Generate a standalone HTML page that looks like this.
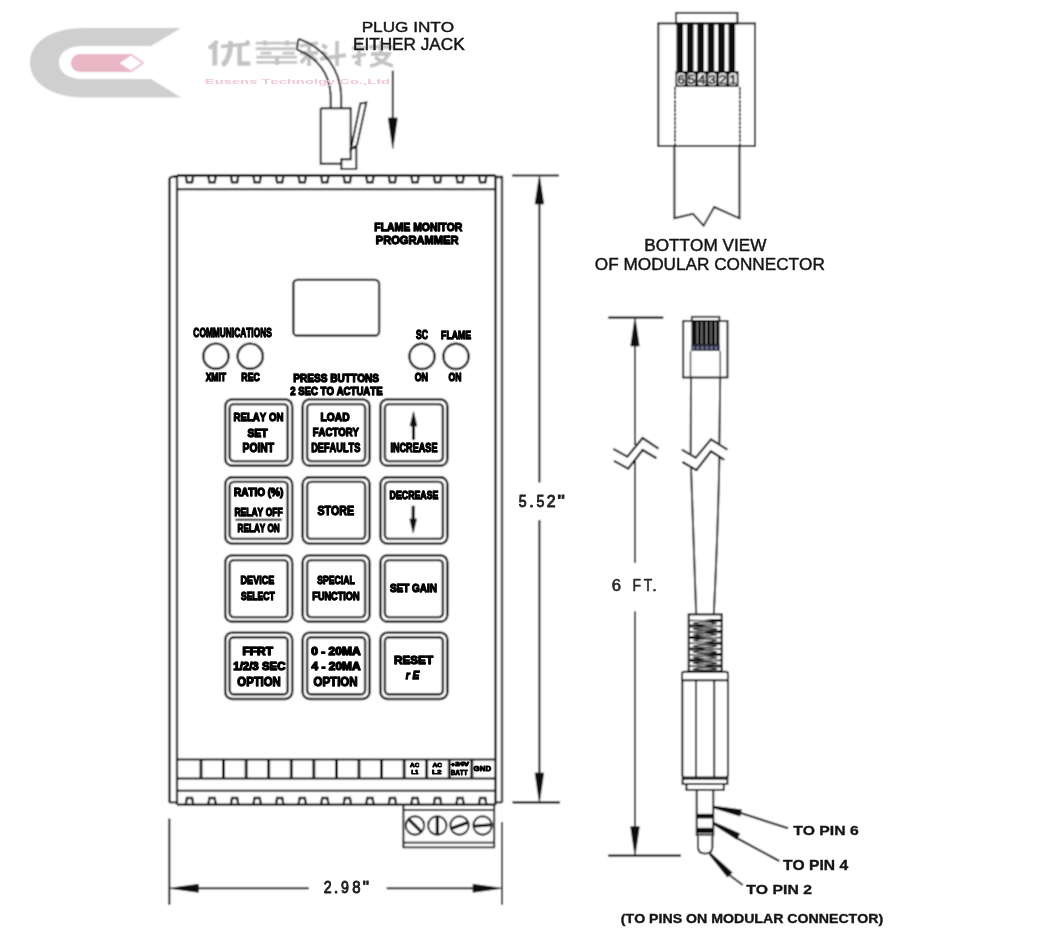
<!DOCTYPE html>
<html><head><meta charset="utf-8"><title>Flame Monitor Programmer</title>
<style>html,body{margin:0;padding:0;background:#fff;}svg{display:block;}</style></head>
<body><svg width="1053" height="940" viewBox="0 0 1053 940">
<defs><filter id="bl" filterUnits="userSpaceOnUse" x="0" y="0" width="1053" height="940"><feConvolveMatrix order="3" kernelMatrix="1 2 1 2 4 2 1 2 1" divisor="16" preserveAlpha="false" edgeMode="none"/></filter><filter id="id" filterUnits="userSpaceOnUse" x="0" y="0" width="1053" height="940"><feOffset dx="0" dy="0"/></filter></defs>
<rect width="1053" height="940" fill="#ffffff"/>
<g filter="url(#bl)">
<rect width="1053" height="940" fill="#ffffff"/>
<g opacity="1">
<path d="M84,28 L181,28 L151,46 L84,46 C66,46 59,54 59,62.5 C59,71 66,79 84,79 L151,79 L181,97.5 L84,97.5 C50,97.5 30,82 30,62.5 C30,43 50,28 84,28 Z" fill="#cfcfcf"/>
<path d="M80,54 L131,54 L118,63 L131,72 L80,72 C75,72 71,68 71,63 C71,58 75,54 80,54 Z" fill="#e9b6c6"/>
<path d="M118,63 L131,54.5 L143,63 L131,71.5 Z" fill="#fff" stroke="#e9b6c6" stroke-width="1.6"/>
</g>
<path d="M217.5,41 L209,48.5" stroke="#c4c4c4" stroke-width="4.2" fill="none" stroke-linecap="butt"/>
<path d="M214.8,44 L214.8,65.5" stroke="#c4c4c4" stroke-width="5.0" fill="none" stroke-linecap="butt"/>
<path d="M221,46.5 L249.5,44" stroke="#c4c4c4" stroke-width="3.6" fill="none" stroke-linecap="butt"/>
<path d="M230.5,41 C231,52 228.5,60 222.5,65.5" stroke="#c4c4c4" stroke-width="5.0" fill="none" stroke-linecap="butt"/>
<path d="M239.6,46 L239.6,63.5 L250.5,63.5" stroke="#c4c4c4" stroke-width="4.6" fill="none" stroke-linecap="butt"/>
<path d="M246,41 L249.5,43.5" stroke="#c4c4c4" stroke-width="3.5" fill="none" stroke-linecap="butt"/>
<path d="M255.8,43.1 L296.6,43.1 M255.8,48.8 L295.7,48.8 M260.5,53.1 L271.5,53.1 M282.4,53.1 L294.7,53.1 M256.3,57.1 L297.1,57.1 M256.3,62.4 L297.1,62.4" stroke="#c4c4c4" stroke-width="2.9" fill="none" stroke-linecap="butt"/>
<path d="M265,40.5 L265,45.5 M287,40.5 L287,45.5 M277,56 L277,65" stroke="#c4c4c4" stroke-width="4.0" fill="none" stroke-linecap="butt"/>
<path d="M300,46 L318,43 M309,43 L309,66 M300,53 L318,53 M308,54 L301,63 M310,55 L317,61 M322,45 L327,48 M322,52 L327,55 M320,59 L346,55 M337,41 L337,66" stroke="#c4c4c4" stroke-width="3.8" fill="none" stroke-linecap="butt"/>
<path d="M352,48 L366,48 M359,41 L359,64 L355,62 M352,57 L366,54 M369,47 L393,47 M381,41 L381,52 M371,54 L389,54 C386,60 380,64 370,66 M375,57 C380,61 386,64 393,66" stroke="#c4c4c4" stroke-width="3.8" fill="none" stroke-linecap="butt"/>
<line x1="392.80" y1="70.70" x2="392.80" y2="125.00" stroke="#080808" stroke-width="1.92"/>
<path d="M392.80,148.50 L397.30,118.00 L388.30,118.00 Z" fill="#080808" stroke="#080808" stroke-width="0.72"/>
<path d="M330.7,108.2 L330.7,95 C329.5,74 318,58 296.8,49.3" stroke="#080808" stroke-width="1.92" fill="none" />
<path d="M341.2,108.2 L341.2,95 C340,70 325,48 298.9,38.9" stroke="#080808" stroke-width="1.92" fill="none" />
<path d="M298.9,38.9 C297,42 298,46 296.8,49.3" stroke="#080808" stroke-width="1.92" fill="none" />
<path d="M320.7,108.2 L350.7,108.2 L350.7,152 M320.7,108.2 L320.7,163.8 L341.4,163.8" stroke="#080808" stroke-width="1.92" fill="none" />
<path d="M341.4,159.3 L350.7,159.3 L350.7,149 L356.3,147 L356.3,168.9 L341.4,168.9 Z" stroke="#080808" stroke-width="1.92" fill="none" />
<path d="M350.7,150 L360.3,103.5 L366.3,102.5 L357,145 L353,148" stroke="#080808" stroke-width="1.92" fill="none" />
<path d="M177.0,175.5 L495.5,175.5" stroke="#080808" stroke-width="2.28" fill="none" />
<path d="M169.5,802.4 L169.5,179 Q169.5,176.5 177.0,176.5" stroke="#080808" stroke-width="2.28" fill="none" />
<path d="M169.5,802.4 L177.0,802.4" stroke="#080808" stroke-width="1.92" fill="none" />
<path d="M502.0,802.4 L502.0,177 L495.5,177" stroke="#080808" stroke-width="2.28" fill="none" />
<path d="M502.0,802.4 L495.5,802.4" stroke="#080808" stroke-width="1.92" fill="none" />
<line x1="177.00" y1="175.50" x2="177.00" y2="804.60" stroke="#080808" stroke-width="2.28"/>
<line x1="495.50" y1="175.50" x2="495.50" y2="804.60" stroke="#080808" stroke-width="2.28"/>
<line x1="177.00" y1="189.20" x2="495.50" y2="189.20" stroke="#080808" stroke-width="2.28"/>
<line x1="177.00" y1="804.60" x2="495.50" y2="804.60" stroke="#080808" stroke-width="2.28"/>
<line x1="177.00" y1="790.80" x2="495.50" y2="790.80" stroke="#080808" stroke-width="2.04"/>
<line x1="177.00" y1="759.50" x2="495.50" y2="759.50" stroke="#080808" stroke-width="2.04"/>
<line x1="177.00" y1="778.50" x2="495.50" y2="778.50" stroke="#080808" stroke-width="2.04"/>
<path d="M185.70,175.5 L186.90,182.4 L192.10,182.4 L193.30,175.5" stroke="#080808" stroke-width="2.28" fill="none" />
<path d="M185.70,804.6 L186.90,798 L192.10,798 L193.30,804.6" stroke="#080808" stroke-width="2.28" fill="none" />
<path d="M208.25,175.5 L209.45,182.4 L214.65,182.4 L215.85,175.5" stroke="#080808" stroke-width="2.28" fill="none" />
<path d="M208.25,804.6 L209.45,798 L214.65,798 L215.85,804.6" stroke="#080808" stroke-width="2.28" fill="none" />
<path d="M230.80,175.5 L232.00,182.4 L237.20,182.4 L238.40,175.5" stroke="#080808" stroke-width="2.28" fill="none" />
<path d="M230.80,804.6 L232.00,798 L237.20,798 L238.40,804.6" stroke="#080808" stroke-width="2.28" fill="none" />
<path d="M253.35,175.5 L254.55,182.4 L259.75,182.4 L260.95,175.5" stroke="#080808" stroke-width="2.28" fill="none" />
<path d="M253.35,804.6 L254.55,798 L259.75,798 L260.95,804.6" stroke="#080808" stroke-width="2.28" fill="none" />
<path d="M275.90,175.5 L277.10,182.4 L282.30,182.4 L283.50,175.5" stroke="#080808" stroke-width="2.28" fill="none" />
<path d="M275.90,804.6 L277.10,798 L282.30,798 L283.50,804.6" stroke="#080808" stroke-width="2.28" fill="none" />
<path d="M298.45,175.5 L299.65,182.4 L304.85,182.4 L306.05,175.5" stroke="#080808" stroke-width="2.28" fill="none" />
<path d="M298.45,804.6 L299.65,798 L304.85,798 L306.05,804.6" stroke="#080808" stroke-width="2.28" fill="none" />
<path d="M321.00,175.5 L322.20,182.4 L327.40,182.4 L328.60,175.5" stroke="#080808" stroke-width="2.28" fill="none" />
<path d="M321.00,804.6 L322.20,798 L327.40,798 L328.60,804.6" stroke="#080808" stroke-width="2.28" fill="none" />
<path d="M343.55,175.5 L344.75,182.4 L349.95,182.4 L351.15,175.5" stroke="#080808" stroke-width="2.28" fill="none" />
<path d="M343.55,804.6 L344.75,798 L349.95,798 L351.15,804.6" stroke="#080808" stroke-width="2.28" fill="none" />
<path d="M366.10,175.5 L367.30,182.4 L372.50,182.4 L373.70,175.5" stroke="#080808" stroke-width="2.28" fill="none" />
<path d="M366.10,804.6 L367.30,798 L372.50,798 L373.70,804.6" stroke="#080808" stroke-width="2.28" fill="none" />
<path d="M388.65,175.5 L389.85,182.4 L395.05,182.4 L396.25,175.5" stroke="#080808" stroke-width="2.28" fill="none" />
<path d="M388.65,804.6 L389.85,798 L395.05,798 L396.25,804.6" stroke="#080808" stroke-width="2.28" fill="none" />
<path d="M411.20,175.5 L412.40,182.4 L417.60,182.4 L418.80,175.5" stroke="#080808" stroke-width="2.28" fill="none" />
<path d="M411.20,804.6 L412.40,798 L417.60,798 L418.80,804.6" stroke="#080808" stroke-width="2.28" fill="none" />
<path d="M433.75,175.5 L434.95,182.4 L440.15,182.4 L441.35,175.5" stroke="#080808" stroke-width="2.28" fill="none" />
<path d="M433.75,804.6 L434.95,798 L440.15,798 L441.35,804.6" stroke="#080808" stroke-width="2.28" fill="none" />
<path d="M456.30,175.5 L457.50,182.4 L462.70,182.4 L463.90,175.5" stroke="#080808" stroke-width="2.28" fill="none" />
<path d="M456.30,804.6 L457.50,798 L462.70,798 L463.90,804.6" stroke="#080808" stroke-width="2.28" fill="none" />
<path d="M478.85,175.5 L480.05,182.4 L485.25,182.4 L486.45,175.5" stroke="#080808" stroke-width="2.28" fill="none" />
<path d="M478.85,804.6 L480.05,798 L485.25,798 L486.45,804.6" stroke="#080808" stroke-width="2.28" fill="none" />
<line x1="201.00" y1="759.50" x2="201.00" y2="778.50" stroke="#080808" stroke-width="2.88"/>
<line x1="223.57" y1="759.50" x2="223.57" y2="778.50" stroke="#080808" stroke-width="2.88"/>
<line x1="246.14" y1="759.50" x2="246.14" y2="778.50" stroke="#080808" stroke-width="2.88"/>
<line x1="268.71" y1="759.50" x2="268.71" y2="778.50" stroke="#080808" stroke-width="2.88"/>
<line x1="291.28" y1="759.50" x2="291.28" y2="778.50" stroke="#080808" stroke-width="2.88"/>
<line x1="313.85" y1="759.50" x2="313.85" y2="778.50" stroke="#080808" stroke-width="2.88"/>
<line x1="336.42" y1="759.50" x2="336.42" y2="778.50" stroke="#080808" stroke-width="2.88"/>
<line x1="358.99" y1="759.50" x2="358.99" y2="778.50" stroke="#080808" stroke-width="2.88"/>
<line x1="381.56" y1="759.50" x2="381.56" y2="778.50" stroke="#080808" stroke-width="2.88"/>
<line x1="404.13" y1="759.50" x2="404.13" y2="778.50" stroke="#080808" stroke-width="2.88"/>
<line x1="426.70" y1="759.50" x2="426.70" y2="778.50" stroke="#080808" stroke-width="2.88"/>
<line x1="449.27" y1="759.50" x2="449.27" y2="778.50" stroke="#080808" stroke-width="2.88"/>
<line x1="471.84" y1="759.50" x2="471.84" y2="778.50" stroke="#080808" stroke-width="2.88"/>
<path d="M403.4,805 L403.4,847.4 L494.2,847.4 L494.2,805" stroke="#080808" stroke-width="1.92" fill="none" />
<line x1="403.40" y1="810.00" x2="494.20" y2="810.00" stroke="#080808" stroke-width="1.92"/>
<line x1="403.40" y1="842.60" x2="494.20" y2="842.60" stroke="#080808" stroke-width="1.92"/>
<circle cx="415" cy="825.5" r="9.2" fill="none" stroke="#080808" stroke-width="1.92"/>
<line x1="408.78" y1="819.28" x2="421.22" y2="831.72" stroke="#080808" stroke-width="3.12"/>
<circle cx="437.3" cy="825.5" r="9.2" fill="none" stroke="#080808" stroke-width="1.92"/>
<line x1="437.30" y1="816.70" x2="437.30" y2="834.30" stroke="#080808" stroke-width="3.12"/>
<circle cx="459.5" cy="825.5" r="9.2" fill="none" stroke="#080808" stroke-width="1.92"/>
<line x1="467.77" y1="822.49" x2="451.23" y2="828.51" stroke="#080808" stroke-width="3.12"/>
<circle cx="482.6" cy="825.5" r="9.2" fill="none" stroke="#080808" stroke-width="1.92"/>
<line x1="491.37" y1="824.73" x2="473.83" y2="826.27" stroke="#080808" stroke-width="3.12"/>
<rect x="293.3" y="279.9" width="85.8" height="55.8" rx="4" fill="none" stroke="#080808" stroke-width="2.28"/>
<circle cx="215.9" cy="356.2" r="12.6" fill="none" stroke="#080808" stroke-width="2.40"/>
<circle cx="250.25" cy="356.2" r="12.6" fill="none" stroke="#080808" stroke-width="2.40"/>
<circle cx="422" cy="356.4" r="12.6" fill="none" stroke="#080808" stroke-width="2.40"/>
<circle cx="456" cy="356.4" r="12.6" fill="none" stroke="#080808" stroke-width="2.40"/>
<rect x="225.20" y="399.40" width="67.0" height="66.4" rx="7" fill="none" stroke="#080808" stroke-width="2.40"/>
<rect x="229.70" y="404.10" width="58.0" height="57.0" rx="4" fill="none" stroke="#080808" stroke-width="2.40"/>
<rect x="302.60" y="399.40" width="67.0" height="66.4" rx="7" fill="none" stroke="#080808" stroke-width="2.40"/>
<rect x="307.10" y="404.10" width="58.0" height="57.0" rx="4" fill="none" stroke="#080808" stroke-width="2.40"/>
<rect x="380.40" y="399.40" width="67.0" height="66.4" rx="7" fill="none" stroke="#080808" stroke-width="2.40"/>
<rect x="384.90" y="404.10" width="58.0" height="57.0" rx="4" fill="none" stroke="#080808" stroke-width="2.40"/>
<rect x="225.20" y="477.20" width="67.0" height="66.4" rx="7" fill="none" stroke="#080808" stroke-width="2.40"/>
<rect x="229.70" y="481.90" width="58.0" height="57.0" rx="4" fill="none" stroke="#080808" stroke-width="2.40"/>
<rect x="302.60" y="477.20" width="67.0" height="66.4" rx="7" fill="none" stroke="#080808" stroke-width="2.40"/>
<rect x="307.10" y="481.90" width="58.0" height="57.0" rx="4" fill="none" stroke="#080808" stroke-width="2.40"/>
<rect x="380.40" y="477.20" width="67.0" height="66.4" rx="7" fill="none" stroke="#080808" stroke-width="2.40"/>
<rect x="384.90" y="481.90" width="58.0" height="57.0" rx="4" fill="none" stroke="#080808" stroke-width="2.40"/>
<rect x="225.20" y="555.40" width="67.0" height="66.4" rx="7" fill="none" stroke="#080808" stroke-width="2.40"/>
<rect x="229.70" y="560.10" width="58.0" height="57.0" rx="4" fill="none" stroke="#080808" stroke-width="2.40"/>
<rect x="302.60" y="555.40" width="67.0" height="66.4" rx="7" fill="none" stroke="#080808" stroke-width="2.40"/>
<rect x="307.10" y="560.10" width="58.0" height="57.0" rx="4" fill="none" stroke="#080808" stroke-width="2.40"/>
<rect x="380.40" y="555.40" width="67.0" height="66.4" rx="7" fill="none" stroke="#080808" stroke-width="2.40"/>
<rect x="384.90" y="560.10" width="58.0" height="57.0" rx="4" fill="none" stroke="#080808" stroke-width="2.40"/>
<rect x="225.20" y="632.60" width="67.0" height="66.4" rx="7" fill="none" stroke="#080808" stroke-width="2.40"/>
<rect x="229.70" y="637.30" width="58.0" height="57.0" rx="4" fill="none" stroke="#080808" stroke-width="2.40"/>
<rect x="302.60" y="632.60" width="67.0" height="66.4" rx="7" fill="none" stroke="#080808" stroke-width="2.40"/>
<rect x="307.10" y="637.30" width="58.0" height="57.0" rx="4" fill="none" stroke="#080808" stroke-width="2.40"/>
<rect x="380.40" y="632.60" width="67.0" height="66.4" rx="7" fill="none" stroke="#080808" stroke-width="2.40"/>
<rect x="384.90" y="637.30" width="58.0" height="57.0" rx="4" fill="none" stroke="#080808" stroke-width="2.40"/>
<line x1="235.50" y1="519.80" x2="281.80" y2="519.80" stroke="#080808" stroke-width="1.92"/>
<line x1="413.50" y1="440.00" x2="413.50" y2="422.00" stroke="#080808" stroke-width="3.12"/>
<path d="M413.50,411.70 L410.10,426.00 L416.90,426.00 Z" fill="#080808" stroke="#080808" stroke-width="0.72"/>
<line x1="413.20" y1="505.80" x2="413.20" y2="523.00" stroke="#080808" stroke-width="3.12"/>
<path d="M413.20,532.80 L416.60,519.00 L409.80,519.00 Z" fill="#080808" stroke="#080808" stroke-width="0.72"/>
<line x1="512.00" y1="175.50" x2="559.00" y2="175.50" stroke="#080808" stroke-width="2.16"/>
<line x1="512.50" y1="802.40" x2="560.00" y2="802.40" stroke="#080808" stroke-width="2.16"/>
<line x1="539.40" y1="190.00" x2="539.40" y2="482.40" stroke="#080808" stroke-width="2.04"/>
<line x1="539.40" y1="520.00" x2="539.40" y2="790.00" stroke="#080808" stroke-width="2.04"/>
<path d="M539.40,175.50 L535.10,204.00 L543.70,204.00 Z" fill="#080808" stroke="#080808" stroke-width="0.72"/>
<path d="M539.40,802.40 L543.70,773.00 L535.10,773.00 Z" fill="#080808" stroke="#080808" stroke-width="0.72"/>
<line x1="169.30" y1="818.60" x2="169.30" y2="904.70" stroke="#080808" stroke-width="2.04"/>
<line x1="502.00" y1="822.00" x2="502.00" y2="904.70" stroke="#080808" stroke-width="2.04"/>
<line x1="180.00" y1="888.30" x2="308.70" y2="888.30" stroke="#080808" stroke-width="2.04"/>
<line x1="386.70" y1="888.30" x2="490.00" y2="888.30" stroke="#080808" stroke-width="2.04"/>
<path d="M169.30,888.30 L198.30,892.30 L198.30,884.30 Z" fill="#080808" stroke="#080808" stroke-width="0.72"/>
<path d="M502.00,888.30 L473.00,884.30 L473.00,892.30 Z" fill="#080808" stroke="#080808" stroke-width="0.72"/>
<rect x="658.3" y="23.4" width="96.7" height="122.6" fill="none" stroke="#080808" stroke-width="1.92"/>
<rect x="676" y="12.9" width="61.4" height="10.5" fill="none" stroke="#080808" stroke-width="1.92"/>
<rect x="676.50" y="23.4" width="6.6" height="48" fill="#0a0a0a"/>
<rect x="686.90" y="23.4" width="6.6" height="48" fill="#0a0a0a"/>
<rect x="697.30" y="23.4" width="6.6" height="48" fill="#0a0a0a"/>
<rect x="707.70" y="23.4" width="6.6" height="48" fill="#0a0a0a"/>
<rect x="718.10" y="23.4" width="6.6" height="48" fill="#0a0a0a"/>
<rect x="728.50" y="23.4" width="6.6" height="48" fill="#0a0a0a"/>
<rect x="675.5" y="71" width="63" height="16" fill="#0a0a0a"/>
<rect x="677.10" y="73" width="7.8" height="12.5" rx="2.5" fill="#e6e6e6"/>
<text x="681.00" y="84" text-anchor="middle" style="font-family:'Liberation Sans',sans-serif;font-size:13px" fill="#222" stroke="#222" stroke-width="0.60">6</text>
<rect x="687.50" y="73" width="7.8" height="12.5" rx="2.5" fill="#e6e6e6"/>
<text x="691.40" y="84" text-anchor="middle" style="font-family:'Liberation Sans',sans-serif;font-size:13px" fill="#222" stroke="#222" stroke-width="0.60">5</text>
<rect x="697.90" y="73" width="7.8" height="12.5" rx="2.5" fill="#e6e6e6"/>
<text x="701.80" y="84" text-anchor="middle" style="font-family:'Liberation Sans',sans-serif;font-size:13px" fill="#222" stroke="#222" stroke-width="0.60">4</text>
<rect x="708.30" y="73" width="7.8" height="12.5" rx="2.5" fill="#e6e6e6"/>
<text x="712.20" y="84" text-anchor="middle" style="font-family:'Liberation Sans',sans-serif;font-size:13px" fill="#222" stroke="#222" stroke-width="0.60">3</text>
<rect x="718.70" y="73" width="7.8" height="12.5" rx="2.5" fill="#e6e6e6"/>
<text x="722.60" y="84" text-anchor="middle" style="font-family:'Liberation Sans',sans-serif;font-size:13px" fill="#222" stroke="#222" stroke-width="0.60">2</text>
<rect x="729.10" y="73" width="7.8" height="12.5" rx="2.5" fill="#e6e6e6"/>
<text x="733.00" y="84" text-anchor="middle" style="font-family:'Liberation Sans',sans-serif;font-size:13px" fill="#222" stroke="#222" stroke-width="0.60">1</text>
<path d="M675,87 L675,146 M739.8,87 L739.8,146" stroke="#080808" stroke-width="1.68" fill="none" stroke-dasharray="3.5,0.8"/>
<path d="M674.4,146 L674.4,218.3 L693,213.8 L703.6,225.7 L714.3,207 L739.5,218.3 L739.5,146" stroke="#080808" stroke-width="1.92" fill="none" />
<line x1="608.20" y1="317.60" x2="663.30" y2="317.60" stroke="#080808" stroke-width="2.16"/>
<line x1="635.00" y1="330.00" x2="635.00" y2="445.00" stroke="#080808" stroke-width="2.04"/>
<path d="M635.00,317.60 L630.80,346.00 L639.20,346.00 Z" fill="#080808" stroke="#080808" stroke-width="0.72"/>
<rect x="683.2" y="321" width="44.3" height="56.5" fill="none" stroke="#080808" stroke-width="1.92"/>
<rect x="691.8" y="316.8" width="27.6" height="4.2" fill="none" stroke="#080808" stroke-width="1.80"/>
<rect x="691.5" y="321" width="28" height="24.5" fill="#0c0c0c"/>
<line x1="697.20" y1="322" x2="697.20" y2="344" stroke="#9a9a9a" stroke-width="1.08"/>
<line x1="701.80" y1="322" x2="701.80" y2="344" stroke="#9a9a9a" stroke-width="1.08"/>
<line x1="706.40" y1="322" x2="706.40" y2="344" stroke="#9a9a9a" stroke-width="1.08"/>
<line x1="711.00" y1="322" x2="711.00" y2="344" stroke="#9a9a9a" stroke-width="1.08"/>
<line x1="715.60" y1="322" x2="715.60" y2="344" stroke="#9a9a9a" stroke-width="1.08"/>
<rect x="691" y="345" width="29" height="6" fill="#33334a"/>
<rect x="692.30" y="346.5" width="1.6" height="3" fill="#8a8aa8"/>
<rect x="696.90" y="346.5" width="1.6" height="3" fill="#8a8aa8"/>
<rect x="701.50" y="346.5" width="1.6" height="3" fill="#8a8aa8"/>
<rect x="706.10" y="346.5" width="1.6" height="3" fill="#8a8aa8"/>
<rect x="710.70" y="346.5" width="1.6" height="3" fill="#8a8aa8"/>
<rect x="715.30" y="346.5" width="1.6" height="3" fill="#8a8aa8"/>
<path d="M690.5,351 L690.5,377.5 M720.3,351 L720.3,377.5" stroke="#555" stroke-width="1.56" fill="none" />
<path d="M691,377.5 L690.7,453.6" stroke="#080808" stroke-width="1.92" fill="none" />
<path d="M720.2,377.5 L719.4,443.6" stroke="#080808" stroke-width="1.92" fill="none" />
<path d="M691,467.5 L696.2,614.4" stroke="#080808" stroke-width="1.92" fill="none" />
<path d="M719.4,457 C718,530 715,590 713.8,614.4" stroke="#080808" stroke-width="1.92" fill="none" />
<path d="M613.3,448.9 L627.3,456.6 L642.6,438 L658.5,448.7" stroke="#080808" stroke-width="2.16" fill="none" />
<path d="M614,460.9 L628.2,468.6 L642.6,450 L656.5,458.2" stroke="#080808" stroke-width="2.16" fill="none" />
<line x1="635.00" y1="461.00" x2="635.00" y2="563.00" stroke="#080808" stroke-width="2.04"/>
<path d="M681.8,449.6 L695.7,457.6 L711,439.4 L727.4,449.6" stroke="#080808" stroke-width="2.16" fill="none" />
<path d="M682.4,462 L696.4,470.2 L711,451.3 L724.3,459.8" stroke="#080808" stroke-width="2.16" fill="none" />
<line x1="635.00" y1="611.40" x2="635.00" y2="835.00" stroke="#080808" stroke-width="2.04"/>
<path d="M635.00,855.70 L639.30,826.70 L630.70,826.70 Z" fill="#080808" stroke="#080808" stroke-width="0.72"/>
<line x1="608.10" y1="855.70" x2="681.00" y2="855.70" stroke="#080808" stroke-width="2.16"/>
<rect x="688.7" y="614.4" width="33" height="57" fill="none" stroke="#080808" stroke-width="2.04"/>
<path d="M689.5,619.7 L704,620.1 L712,618.9 L721,618.9 L721,621.9 L712,621.9 L704,621.1 L689.5,621.3 Z" fill="#111"/>
<path d="M693,623.3 Q705,620.9 717,623.3 Q705,625.7 693,623.3" stroke="#1a1a1a" stroke-width="1.32" fill="none" />
<path d="M689.5,624.6 L698,624.6 L706,625.8 L721,625.4 L721,627.0 L706,626.8 L698,627.6 L689.5,627.6 Z" fill="#111"/>
<path d="M693,629.0 Q705,626.6 717,629.0 Q705,631.4 693,629.0" stroke="#1a1a1a" stroke-width="1.32" fill="none" />
<path d="M689.5,631.1 L704,631.5 L712,630.3 L721,630.3 L721,633.3 L712,633.3 L704,632.5 L689.5,632.7 Z" fill="#111"/>
<path d="M693,634.7 Q705,632.3 717,634.7 Q705,637.1 693,634.7" stroke="#1a1a1a" stroke-width="1.32" fill="none" />
<path d="M689.5,636.0 L698,636.0 L706,637.2 L721,636.8 L721,638.4 L706,638.2 L698,639.0 L689.5,639.0 Z" fill="#111"/>
<path d="M693,640.4 Q705,638.0 717,640.4 Q705,642.8 693,640.4" stroke="#1a1a1a" stroke-width="1.32" fill="none" />
<path d="M689.5,642.5 L704,642.9 L712,641.7 L721,641.7 L721,644.7 L712,644.7 L704,643.9 L689.5,644.1 Z" fill="#111"/>
<path d="M693,646.1 Q705,643.7 717,646.1 Q705,648.5 693,646.1" stroke="#1a1a1a" stroke-width="1.32" fill="none" />
<path d="M689.5,647.4 L698,647.4 L706,648.6 L721,648.2 L721,649.8 L706,649.6 L698,650.4 L689.5,650.4 Z" fill="#111"/>
<path d="M693,651.8 Q705,649.4 717,651.8 Q705,654.2 693,651.8" stroke="#1a1a1a" stroke-width="1.32" fill="none" />
<path d="M689.5,653.9 L704,654.3 L712,653.1 L721,653.1 L721,656.1 L712,656.1 L704,655.3 L689.5,655.5 Z" fill="#111"/>
<path d="M693,657.5 Q705,655.1 717,657.5 Q705,659.9 693,657.5" stroke="#1a1a1a" stroke-width="1.32" fill="none" />
<path d="M689.5,658.8 L698,658.8 L706,660.0 L721,659.6 L721,661.2 L706,661.0 L698,661.8 L689.5,661.8 Z" fill="#111"/>
<path d="M693,663.2 Q705,660.8 717,663.2 Q705,665.6 693,663.2" stroke="#1a1a1a" stroke-width="1.32" fill="none" />
<path d="M689.5,665.3 L704,665.7 L712,664.5 L721,664.5 L721,667.5 L712,667.5 L704,666.7 L689.5,666.9 Z" fill="#111"/>
<path d="M693,668.9 Q705,666.5 717,668.9 Q705,671.3 693,668.9" stroke="#1a1a1a" stroke-width="1.32" fill="none" />
<path d="M682,680.3 L682,674 Q682,671.8 684.5,671.8 L725.5,671.8 Q728,671.8 728,674 L728,680.3 Z" stroke="#080808" stroke-width="2.04" fill="none" />
<path d="M682.3,680.3 L682.3,775 Q682.3,777.6 685,777.6 L725.5,777.6 Q728,777.6 728,775 L728,680.3" stroke="#080808" stroke-width="2.04" fill="none" />
<line x1="696.00" y1="680.30" x2="696.00" y2="777.60" stroke="#080808" stroke-width="1.92"/>
<line x1="714.20" y1="680.30" x2="714.20" y2="777.60" stroke="#080808" stroke-width="1.92"/>
<rect x="682.6" y="778.7" width="44.8" height="5.3" fill="none" stroke="#080808" stroke-width="1.92"/>
<rect x="686.4" y="784" width="37.4" height="5.9" fill="none" stroke="#080808" stroke-width="1.92"/>
<path d="M696.7,790 L696.7,836 M713.3,790 L713.3,836" stroke="#080808" stroke-width="1.92" fill="none" />
<rect x="696.7" y="813.8" width="16.6" height="4.7" fill="#111"/>
<rect x="696.7" y="827.8" width="16.6" height="5.2" fill="#111"/>
<line x1="696.70" y1="834.60" x2="713.30" y2="834.60" stroke="#080808" stroke-width="1.92"/>
<path d="M698,836 L698,847 Q698,853.6 705.2,853.6 Q712.4,853.6 712.4,847 L712.4,836" stroke="#080808" stroke-width="1.92" fill="none" />
<line x1="740.00" y1="812.80" x2="788.10" y2="828.30" stroke="#080808" stroke-width="2.04"/>
<path d="M713.30,808.37 L740.23,816.52 L741.77,809.48 L713.90,805.63 Z" fill="#080808"/>
<line x1="735.00" y1="837.00" x2="779.20" y2="861.00" stroke="#080808" stroke-width="2.04"/>
<path d="M712.93,824.43 L736.78,839.86 L740.22,833.54 L714.27,821.97 Z" fill="#080808"/>
<line x1="728.00" y1="874.00" x2="742.70" y2="885.00" stroke="#080808" stroke-width="2.04"/>
<path d="M708.78,854.56 L727.38,877.47 L732.62,872.53 L710.82,852.64 Z" fill="#080808"/>
</g>
<g filter="url(#id)">
<text x="204.86" y="83.62" textLength="185.26" lengthAdjust="spacingAndGlyphs" style="font-family:'Liberation Sans',sans-serif;font-size:7.688px;font-kerning:none;font-weight:bold;" fill="#f2c8d5">Eusens Technolgy Co.,Ltd</text>
<text x="361.67" y="32.42" textLength="92.58" lengthAdjust="spacingAndGlyphs" style="font-family:'Liberation Sans',sans-serif;font-size:15.189px;font-kerning:none;" fill="#151515" stroke="#151515" stroke-width="0.45" stroke-linejoin="round">PLUG INTO</text>
<text x="352.97" y="49.72" textLength="111.65" lengthAdjust="spacingAndGlyphs" style="font-family:'Liberation Sans',sans-serif;font-size:15.916px;font-kerning:none;" fill="#151515" stroke="#151515" stroke-width="0.45" stroke-linejoin="round">EITHER JACK</text>
<text x="410.14" y="767.00" textLength="9.23" lengthAdjust="spacingAndGlyphs" style="font-family:'Liberation Sans',sans-serif;font-size:5.959px;font-kerning:none;font-weight:bold;" fill="#000" stroke="#000" stroke-width="0.9" stroke-linejoin="round">AC</text>
<text x="411.29" y="774.20" textLength="7.07" lengthAdjust="spacingAndGlyphs" style="font-family:'Liberation Sans',sans-serif;font-size:6.105px;font-kerning:none;font-weight:bold;" fill="#000" stroke="#000" stroke-width="0.9" stroke-linejoin="round">L1</text>
<text x="432.43" y="767.00" textLength="9.65" lengthAdjust="spacingAndGlyphs" style="font-family:'Liberation Sans',sans-serif;font-size:5.959px;font-kerning:none;font-weight:bold;" fill="#000" stroke="#000" stroke-width="0.9" stroke-linejoin="round">AC</text>
<text x="432.06" y="774.20" textLength="9.47" lengthAdjust="spacingAndGlyphs" style="font-family:'Liberation Sans',sans-serif;font-size:6.105px;font-kerning:none;font-weight:bold;" fill="#000" stroke="#000" stroke-width="0.9" stroke-linejoin="round">L2</text>
<text x="450.78" y="765.60" textLength="18.28" lengthAdjust="spacingAndGlyphs" style="font-family:'Liberation Sans',sans-serif;font-size:4.583px;font-kerning:none;font-weight:bold;" fill="#000" stroke="#000" stroke-width="0.9" stroke-linejoin="round">+24V</text>
<text x="450.67" y="774.60" textLength="16.99" lengthAdjust="spacingAndGlyphs" style="font-family:'Liberation Sans',sans-serif;font-size:6.686px;font-kerning:none;font-weight:bold;" fill="#000" stroke="#000" stroke-width="0.9" stroke-linejoin="round">BATT</text>
<text x="473.63" y="771.25" textLength="17.45" lengthAdjust="spacingAndGlyphs" style="font-family:'Liberation Sans',sans-serif;font-size:7.849px;font-kerning:none;font-weight:bold;" fill="#000" stroke="#000" stroke-width="1.0" stroke-linejoin="round">GND</text>
<text x="374.30" y="230.50" textLength="88.11" lengthAdjust="spacingAndGlyphs" style="font-family:'Liberation Sans',sans-serif;font-size:11.628px;font-kerning:none;font-weight:bold;" fill="#000" stroke="#000" stroke-width="1.3" stroke-linejoin="round">FLAME MONITOR</text>
<text x="375.76" y="244.40" textLength="82.67" lengthAdjust="spacingAndGlyphs" style="font-family:'Liberation Sans',sans-serif;font-size:11.628px;font-kerning:none;font-weight:bold;" fill="#000" stroke="#000" stroke-width="1.3" stroke-linejoin="round">PROGRAMMER</text>
<text x="193.36" y="337.00" textLength="78.37" lengthAdjust="spacingAndGlyphs" style="font-family:'Liberation Sans',sans-serif;font-size:12.500px;font-kerning:none;font-weight:bold;" fill="#000" stroke="#000" stroke-width="1.3" stroke-linejoin="round">COMMUNICATIONS</text>
<text x="205.67" y="380.80" textLength="20.42" lengthAdjust="spacingAndGlyphs" style="font-family:'Liberation Sans',sans-serif;font-size:10.756px;font-kerning:none;font-weight:bold;" fill="#000" stroke="#000" stroke-width="1.3" stroke-linejoin="round">XMIT</text>
<text x="241.31" y="380.80" textLength="18.53" lengthAdjust="spacingAndGlyphs" style="font-family:'Liberation Sans',sans-serif;font-size:10.756px;font-kerning:none;font-weight:bold;" fill="#000" stroke="#000" stroke-width="1.3" stroke-linejoin="round">REC</text>
<text x="415.95" y="338.50" textLength="11.98" lengthAdjust="spacingAndGlyphs" style="font-family:'Liberation Sans',sans-serif;font-size:12.064px;font-kerning:none;font-weight:bold;" fill="#000" stroke="#000" stroke-width="1.3" stroke-linejoin="round">SC</text>
<text x="441.12" y="338.90" textLength="30.02" lengthAdjust="spacingAndGlyphs" style="font-family:'Liberation Sans',sans-serif;font-size:11.483px;font-kerning:none;font-weight:bold;" fill="#000" stroke="#000" stroke-width="1.3" stroke-linejoin="round">FLAME</text>
<text x="414.63" y="381.40" textLength="13.47" lengthAdjust="spacingAndGlyphs" style="font-family:'Liberation Sans',sans-serif;font-size:11.483px;font-kerning:none;font-weight:bold;" fill="#000" stroke="#000" stroke-width="1.3" stroke-linejoin="round">ON</text>
<text x="448.55" y="381.40" textLength="12.93" lengthAdjust="spacingAndGlyphs" style="font-family:'Liberation Sans',sans-serif;font-size:11.483px;font-kerning:none;font-weight:bold;" fill="#000" stroke="#000" stroke-width="1.3" stroke-linejoin="round">ON</text>
<text x="293.33" y="382.10" textLength="85.67" lengthAdjust="spacingAndGlyphs" style="font-family:'Liberation Sans',sans-serif;font-size:11.047px;font-kerning:none;font-weight:bold;" fill="#000" stroke="#000" stroke-width="1.3" stroke-linejoin="round">PRESS BUTTONS</text>
<text x="290.17" y="394.70" textLength="92.41" lengthAdjust="spacingAndGlyphs" style="font-family:'Liberation Sans',sans-serif;font-size:11.047px;font-kerning:none;font-weight:bold;" fill="#000" stroke="#000" stroke-width="1.3" stroke-linejoin="round">2 SEC TO ACTUATE</text>
<text x="233.55" y="421.10" textLength="49.90" lengthAdjust="spacingAndGlyphs" style="font-family:'Liberation Sans',sans-serif;font-size:11.628px;font-kerning:none;font-weight:bold;" fill="#000" stroke="#000" stroke-width="1.3" stroke-linejoin="round">RELAY ON</text>
<text x="247.40" y="436.70" textLength="20.31" lengthAdjust="spacingAndGlyphs" style="font-family:'Liberation Sans',sans-serif;font-size:11.047px;font-kerning:none;font-weight:bold;" fill="#000" stroke="#000" stroke-width="1.3" stroke-linejoin="round">SET</text>
<text x="242.61" y="452.20" textLength="31.50" lengthAdjust="spacingAndGlyphs" style="font-family:'Liberation Sans',sans-serif;font-size:12.210px;font-kerning:none;font-weight:bold;" fill="#000" stroke="#000" stroke-width="1.3" stroke-linejoin="round">POINT</text>
<text x="320.61" y="420.70" textLength="29.02" lengthAdjust="spacingAndGlyphs" style="font-family:'Liberation Sans',sans-serif;font-size:11.047px;font-kerning:none;font-weight:bold;" fill="#000" stroke="#000" stroke-width="1.3" stroke-linejoin="round">LOAD</text>
<text x="312.76" y="436.30" textLength="46.19" lengthAdjust="spacingAndGlyphs" style="font-family:'Liberation Sans',sans-serif;font-size:11.047px;font-kerning:none;font-weight:bold;" fill="#000" stroke="#000" stroke-width="1.3" stroke-linejoin="round">FACTORY</text>
<text x="311.18" y="452.20" textLength="49.18" lengthAdjust="spacingAndGlyphs" style="font-family:'Liberation Sans',sans-serif;font-size:12.210px;font-kerning:none;font-weight:bold;" fill="#000" stroke="#000" stroke-width="1.3" stroke-linejoin="round">DEFAULTS</text>
<text x="390.39" y="452.20" textLength="47.17" lengthAdjust="spacingAndGlyphs" style="font-family:'Liberation Sans',sans-serif;font-size:12.210px;font-kerning:none;font-weight:bold;" fill="#000" stroke="#000" stroke-width="1.3" stroke-linejoin="round">INCREASE</text>
<text x="233.93" y="495.60" textLength="49.37" lengthAdjust="spacingAndGlyphs" style="font-family:'Liberation Sans',sans-serif;font-size:10.175px;font-kerning:none;font-weight:bold;" fill="#000" stroke="#000" stroke-width="1.3" stroke-linejoin="round">RATIO (%)</text>
<text x="234.43" y="515.70" textLength="48.28" lengthAdjust="spacingAndGlyphs" style="font-family:'Liberation Sans',sans-serif;font-size:10.465px;font-kerning:none;font-weight:bold;" fill="#000" stroke="#000" stroke-width="1.3" stroke-linejoin="round">RELAY OFF</text>
<text x="237.55" y="531.60" textLength="42.20" lengthAdjust="spacingAndGlyphs" style="font-family:'Liberation Sans',sans-serif;font-size:11.047px;font-kerning:none;font-weight:bold;" fill="#000" stroke="#000" stroke-width="1.3" stroke-linejoin="round">RELAY ON</text>
<text x="317.49" y="515.00" textLength="36.62" lengthAdjust="spacingAndGlyphs" style="font-family:'Liberation Sans',sans-serif;font-size:12.646px;font-kerning:none;font-weight:bold;" fill="#000" stroke="#000" stroke-width="1.3" stroke-linejoin="round">STORE</text>
<text x="389.61" y="499.20" textLength="48.73" lengthAdjust="spacingAndGlyphs" style="font-family:'Liberation Sans',sans-serif;font-size:10.756px;font-kerning:none;font-weight:bold;" fill="#000" stroke="#000" stroke-width="1.3" stroke-linejoin="round">DECREASE</text>
<text x="240.60" y="584.20" textLength="33.66" lengthAdjust="spacingAndGlyphs" style="font-family:'Liberation Sans',sans-serif;font-size:11.773px;font-kerning:none;font-weight:bold;" fill="#000" stroke="#000" stroke-width="1.3" stroke-linejoin="round">DEVICE</text>
<text x="240.95" y="600.10" textLength="33.74" lengthAdjust="spacingAndGlyphs" style="font-family:'Liberation Sans',sans-serif;font-size:11.047px;font-kerning:none;font-weight:bold;" fill="#000" stroke="#000" stroke-width="1.3" stroke-linejoin="round">SELECT</text>
<text x="317.15" y="584.20" textLength="37.72" lengthAdjust="spacingAndGlyphs" style="font-family:'Liberation Sans',sans-serif;font-size:11.773px;font-kerning:none;font-weight:bold;" fill="#000" stroke="#000" stroke-width="1.3" stroke-linejoin="round">SPECIAL</text>
<text x="312.29" y="600.10" textLength="47.33" lengthAdjust="spacingAndGlyphs" style="font-family:'Liberation Sans',sans-serif;font-size:11.047px;font-kerning:none;font-weight:bold;" fill="#000" stroke="#000" stroke-width="1.3" stroke-linejoin="round">FUNCTION</text>
<text x="389.91" y="591.60" textLength="47.16" lengthAdjust="spacingAndGlyphs" style="font-family:'Liberation Sans',sans-serif;font-size:11.773px;font-kerning:none;font-weight:bold;" fill="#000" stroke="#000" stroke-width="1.3" stroke-linejoin="round">SET GAIN</text>
<text x="242.61" y="655.00" textLength="30.32" lengthAdjust="spacingAndGlyphs" style="font-family:'Liberation Sans',sans-serif;font-size:10.175px;font-kerning:none;font-weight:bold;" fill="#000" stroke="#000" stroke-width="1.3" stroke-linejoin="round">FFRT</text>
<text x="233.28" y="670.00" textLength="52.13" lengthAdjust="spacingAndGlyphs" style="font-family:'Liberation Sans',sans-serif;font-size:10.756px;font-kerning:none;font-weight:bold;" fill="#000" stroke="#000" stroke-width="1.3" stroke-linejoin="round">1/2/3 SEC</text>
<text x="237.34" y="685.70" textLength="43.43" lengthAdjust="spacingAndGlyphs" style="font-family:'Liberation Sans',sans-serif;font-size:12.355px;font-kerning:none;font-weight:bold;" fill="#000" stroke="#000" stroke-width="1.3" stroke-linejoin="round">OPTION</text>
<text x="311.33" y="655.00" textLength="49.19" lengthAdjust="spacingAndGlyphs" style="font-family:'Liberation Sans',sans-serif;font-size:10.175px;font-kerning:none;font-weight:bold;" fill="#000" stroke="#000" stroke-width="1.3" stroke-linejoin="round">0 - 20MA</text>
<text x="311.62" y="670.00" textLength="48.89" lengthAdjust="spacingAndGlyphs" style="font-family:'Liberation Sans',sans-serif;font-size:10.756px;font-kerning:none;font-weight:bold;" fill="#000" stroke="#000" stroke-width="1.3" stroke-linejoin="round">4 - 20MA</text>
<text x="313.53" y="685.70" textLength="44.05" lengthAdjust="spacingAndGlyphs" style="font-family:'Liberation Sans',sans-serif;font-size:12.355px;font-kerning:none;font-weight:bold;" fill="#000" stroke="#000" stroke-width="1.3" stroke-linejoin="round">OPTION</text>
<text x="393.91" y="664.00" textLength="39.21" lengthAdjust="spacingAndGlyphs" style="font-family:'Liberation Sans',sans-serif;font-size:11.773px;font-kerning:none;font-weight:bold;" fill="#000" stroke="#000" stroke-width="1.3" stroke-linejoin="round">RESET</text>
<text x="405.73" y="678.50" textLength="13.62" lengthAdjust="spacingAndGlyphs" style="font-family:'Liberation Sans',sans-serif;font-size:11.628px;font-kerning:none;font-weight:bold;font-style:italic;" fill="#000" stroke="#000" stroke-width="1.3" stroke-linejoin="round">r E</text>
<text x="518.83" y="507.40" textLength="7.86" lengthAdjust="spacingAndGlyphs" style="font-family:'Liberation Sans',sans-serif;font-size:16.134px;" fill="#222" stroke="#222" stroke-width="0.9" stroke-linejoin="round">5</text>
<text x="529.16" y="507.40" textLength="4.48" lengthAdjust="spacingAndGlyphs" style="font-family:'Liberation Sans',sans-serif;font-size:16.134px;" fill="#222" stroke="#222" stroke-width="0.9" stroke-linejoin="round">.</text>
<text x="536.43" y="507.40" textLength="7.86" lengthAdjust="spacingAndGlyphs" style="font-family:'Liberation Sans',sans-serif;font-size:16.134px;" fill="#222" stroke="#222" stroke-width="0.9" stroke-linejoin="round">5</text>
<text x="546.71" y="507.40" textLength="8.79" lengthAdjust="spacingAndGlyphs" style="font-family:'Liberation Sans',sans-serif;font-size:16.134px;" fill="#222" stroke="#222" stroke-width="0.9" stroke-linejoin="round">2</text>
<text x="557.62" y="507.40" textLength="7.36" lengthAdjust="spacingAndGlyphs" style="font-family:'Liberation Sans',sans-serif;font-size:16.134px;" fill="#222" stroke="#222" stroke-width="0.9" stroke-linejoin="round">&quot;</text>
<text x="323.65" y="892.60" textLength="7.90" lengthAdjust="spacingAndGlyphs" style="font-family:'Liberation Sans',sans-serif;font-size:16.715px;" fill="#222" stroke="#222" stroke-width="0.9" stroke-linejoin="round">2</text>
<text x="333.73" y="892.60" textLength="4.64" lengthAdjust="spacingAndGlyphs" style="font-family:'Liberation Sans',sans-serif;font-size:16.715px;" fill="#222" stroke="#222" stroke-width="0.9" stroke-linejoin="round">.</text>
<text x="340.90" y="892.60" textLength="7.90" lengthAdjust="spacingAndGlyphs" style="font-family:'Liberation Sans',sans-serif;font-size:16.715px;" fill="#222" stroke="#222" stroke-width="0.9" stroke-linejoin="round">9</text>
<text x="352.15" y="892.60" textLength="8.30" lengthAdjust="spacingAndGlyphs" style="font-family:'Liberation Sans',sans-serif;font-size:16.715px;" fill="#222" stroke="#222" stroke-width="0.9" stroke-linejoin="round">8</text>
<text x="362.74" y="892.60" textLength="6.31" lengthAdjust="spacingAndGlyphs" style="font-family:'Liberation Sans',sans-serif;font-size:16.715px;" fill="#222" stroke="#222" stroke-width="0.9" stroke-linejoin="round">&quot;</text>
<text x="644.27" y="250.62" textLength="122.12" lengthAdjust="spacingAndGlyphs" style="font-family:'Liberation Sans',sans-serif;font-size:16.352px;font-kerning:none;" fill="#151515" stroke="#151515" stroke-width="0.45" stroke-linejoin="round">BOTTOM VIEW</text>
<text x="594.86" y="269.92" textLength="229.96" lengthAdjust="spacingAndGlyphs" style="font-family:'Liberation Sans',sans-serif;font-size:17.079px;font-kerning:none;" fill="#151515" stroke="#151515" stroke-width="0.45" stroke-linejoin="round">OF MODULAR CONNECTOR</text>
<text x="611.70" y="591.15" textLength="9.28" lengthAdjust="spacingAndGlyphs" style="font-family:'Liberation Sans',sans-serif;font-size:16.425px;" fill="#2a2a2a" stroke="#2a2a2a" stroke-width="0.6" stroke-linejoin="round">6</text>
<text x="632.54" y="591.15" textLength="8.53" lengthAdjust="spacingAndGlyphs" style="font-family:'Liberation Sans',sans-serif;font-size:16.425px;" fill="#2a2a2a" stroke="#2a2a2a" stroke-width="0.6" stroke-linejoin="round">F</text>
<text x="643.74" y="591.15" textLength="8.53" lengthAdjust="spacingAndGlyphs" style="font-family:'Liberation Sans',sans-serif;font-size:16.425px;" fill="#2a2a2a" stroke="#2a2a2a" stroke-width="0.6" stroke-linejoin="round">T</text>
<text x="652.37" y="591.15" textLength="4.56" lengthAdjust="spacingAndGlyphs" style="font-family:'Liberation Sans',sans-serif;font-size:16.425px;" fill="#2a2a2a" stroke="#2a2a2a" stroke-width="0.6" stroke-linejoin="round">.</text>
<text x="793.15" y="834.74" textLength="65.60" lengthAdjust="spacingAndGlyphs" style="font-family:'Liberation Sans',sans-serif;font-size:13.630px;font-kerning:none;font-weight:bold;" fill="#151515" stroke="#151515" stroke-width="0.35" stroke-linejoin="round">TO PIN 6</text>
<text x="783.05" y="870.48" textLength="65.11" lengthAdjust="spacingAndGlyphs" style="font-family:'Liberation Sans',sans-serif;font-size:13.881px;font-kerning:none;font-weight:bold;" fill="#151515" stroke="#151515" stroke-width="0.35" stroke-linejoin="round">TO PIN 4</text>
<text x="746.25" y="894.14" textLength="65.66" lengthAdjust="spacingAndGlyphs" style="font-family:'Liberation Sans',sans-serif;font-size:13.630px;font-kerning:none;font-weight:bold;" fill="#151515" stroke="#151515" stroke-width="0.35" stroke-linejoin="round">TO PIN 2</text>
<text x="620.82" y="923.08" textLength="262.36" lengthAdjust="spacingAndGlyphs" style="font-family:'Liberation Sans',sans-serif;font-size:11.991px;font-kerning:none;font-weight:bold;" fill="#151515" stroke="#151515" stroke-width="0.35" stroke-linejoin="round">(TO PINS ON MODULAR CONNECTOR)</text>
</g>
</svg></body></html>
